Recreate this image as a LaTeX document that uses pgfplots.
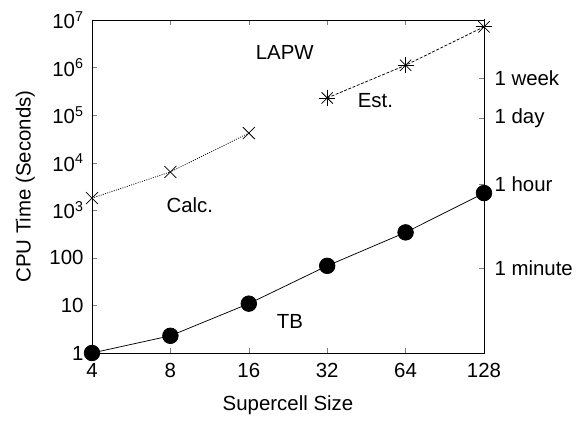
\documentclass[border=0pt]{standalone}
\usepackage{fontspec}
\setmainfont{Liberation Sans}
\usepackage{pgfplots}
\pgfplotsset{compat=1.18}
\newcommand{\lblfont}{\fontsize{20.5}{23}\selectfont}

\begin{document}
\begin{tikzpicture}
\begin{axis}[
  scale only axis, width=392bp, height=333bp,
  xmode=log, ymode=log, log basis x=2,
  xmin=4, xmax=128, ymin=1, ymax=1e7,
  xminorticks=false, yminorticks=false,
  tick align=inside, major tick length=5bp,
  tick label style={font=\lblfont},
  xticklabel style={yshift=-7bp},
  yticklabel style={xshift=-5bp},
  xlabel style={font=\lblfont, at={(axis description cs:0.5,0)}, anchor=center, yshift=-52bp},
  ylabel style={font=\lblfont, at={(axis description cs:-0.17,0.5)}, anchor=center},
  clip=false,
  xtick={4,8,16,32,64,128}, xticklabels={4,8,16,32,64,128},
  ytick={1,10,100,1e3,1e4,1e5,1e6,1e7},
  yticklabels={1,10,100,10\textsuperscript{3},10\textsuperscript{4},10\textsuperscript{5},10\textsuperscript{6},10\textsuperscript{7}},
  ytick pos=left,
  xlabel={Supercell Size}, ylabel={CPU Time (Seconds)},
]
% TB
\addplot[black, line width=0.75pt, mark=*, mark size=7.8bp] coordinates {
  (4,1) (8,2.3) (16,10.9) (32,68) (64,343) (128,2300)
};
% LAPW calculated
\addplot[black, line width=0.75pt, dash pattern=on 1pt off 1.3pt, mark=x, mark size=8.5bp, mark options={solid}] coordinates {
  (4,1800) (8,6400) (16,42000)
};
% LAPW estimated
\addplot[black, line width=0.75pt, dash pattern=on 3pt off 1.6pt, mark=x, mark size=8bp, mark options={solid}] coordinates {
  (32,2.3e5) (64,1.12e6) (128,7.2e6)
};
\addplot[black, line width=0.75pt, only marks, mark=+, mark size=8bp] coordinates {
  (32,2.3e5) (64,1.12e6) (128,7.2e6)
};
\node[font=\lblfont] at (axis cs:22,2.1e6) {LAPW};
\node[font=\lblfont] at (axis cs:9.5,1290) {Calc.};
\node[font=\lblfont] at (axis cs:49,2.06e5) {Est.};
\node[font=\lblfont] at (axis cs:23,4.5) {TB};
\coordinate (sw) at (rel axis cs:0,0);
\coordinate (ne) at (rel axis cs:1,1);
\end{axis}
\begin{axis}[
  scale only axis, width=392bp, height=333bp,
  xmode=log, ymode=log, log basis x=2,
  xmin=4, xmax=128, ymin=1, ymax=1e7,
  yminorticks=false,
  tick align=inside, major tick length=5bp,
  axis x line=none, axis y line*=right,
  ytick={60,3600,86400,604800},
  yticklabels={1 minute,1 hour,1 day,1 week},
  yticklabel style={font=\lblfont, xshift=7bp},
]
\addplot[draw=none] coordinates {(4,1)};
\end{axis}
\path (sw) ++(-92bp,-69bp) coordinate (bl);
\path (ne) ++(95bp,20bp) coordinate (tr);
\pgfresetboundingbox
\path[use as bounding box] (bl) rectangle (tr);
\end{tikzpicture}
\end{document}
